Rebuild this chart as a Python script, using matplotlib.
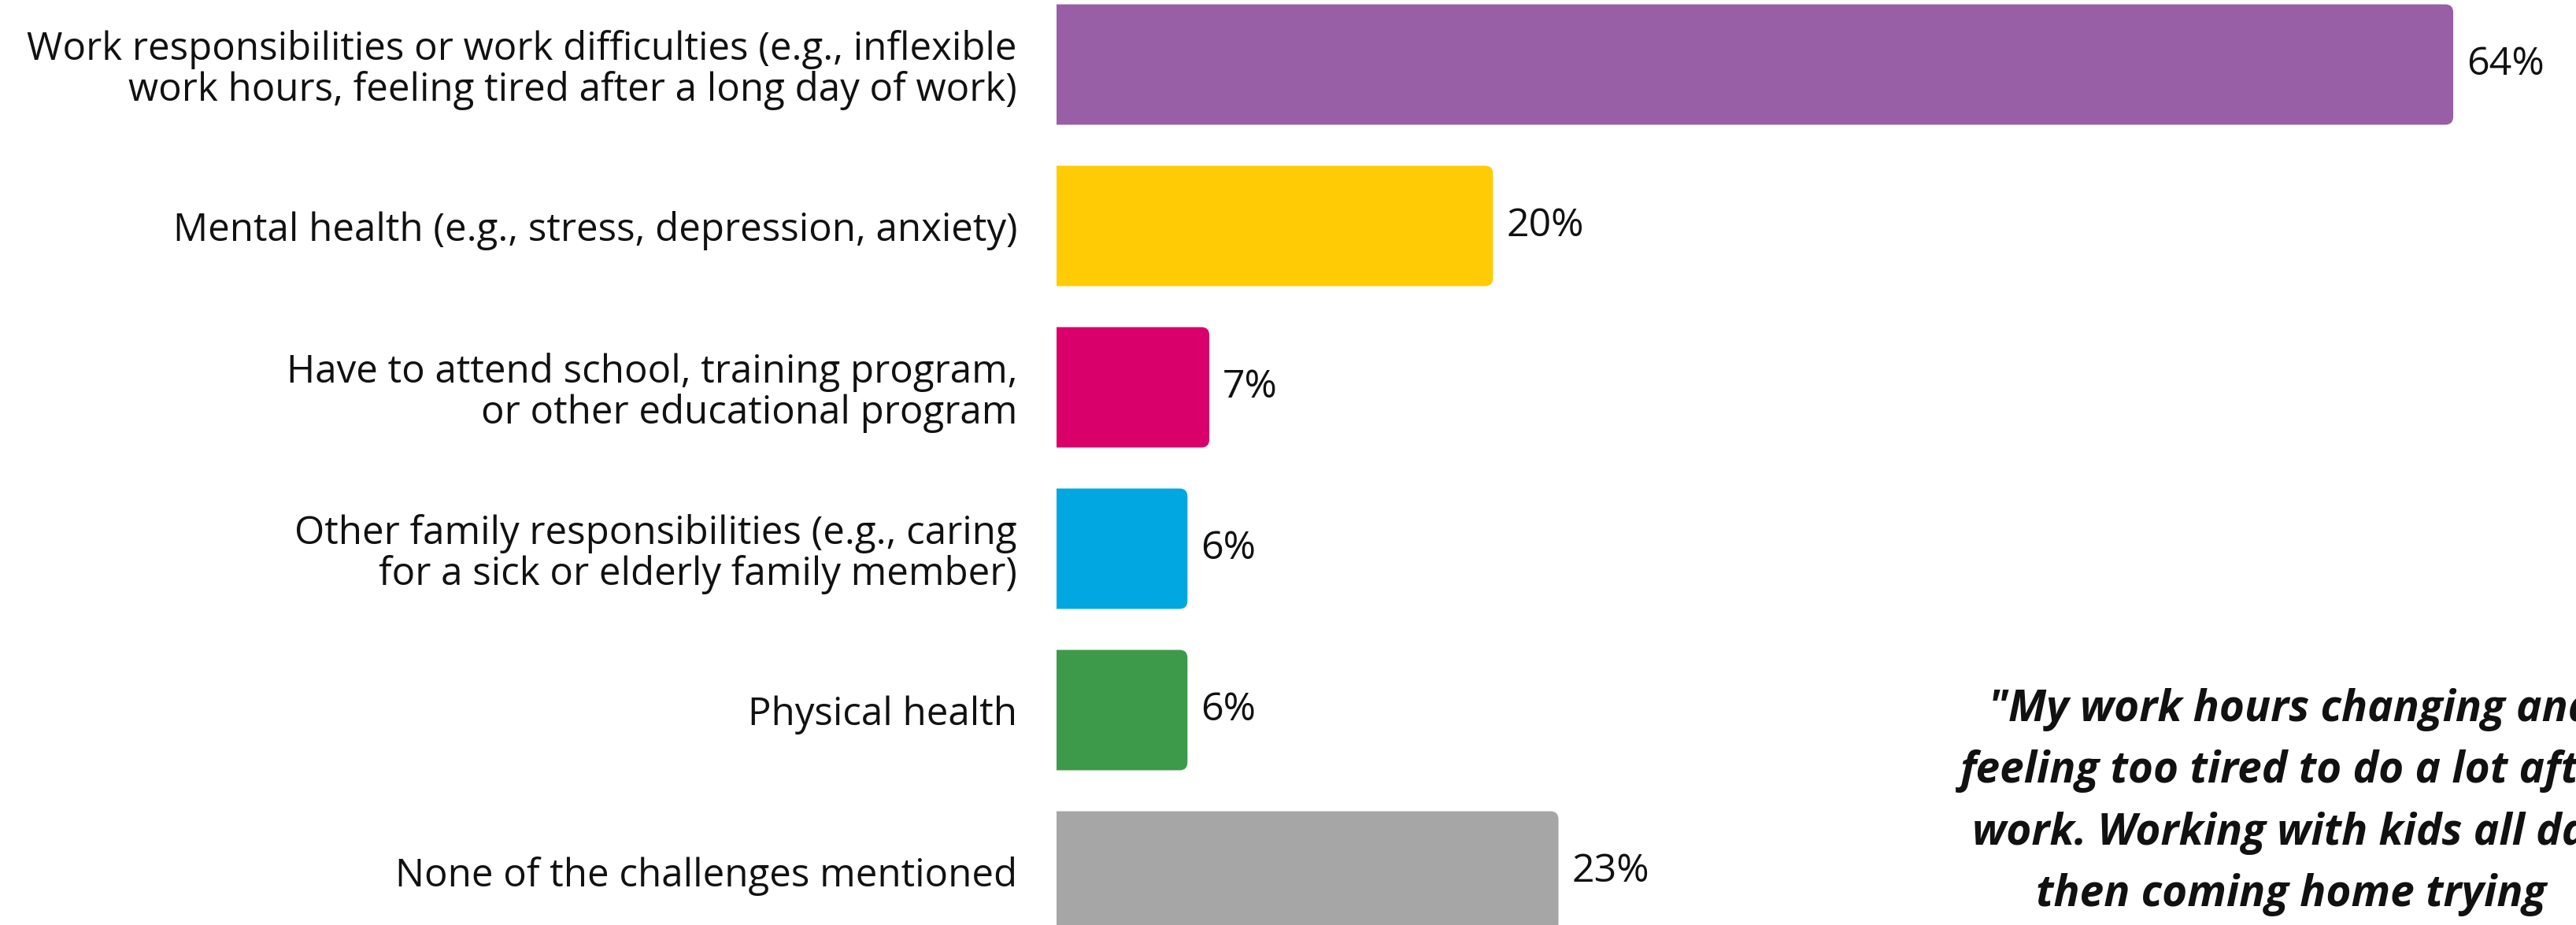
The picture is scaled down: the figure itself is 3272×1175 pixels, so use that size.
import numpy as np
import matplotlib
matplotlib.use("Agg")
import matplotlib.pyplot as plt
from matplotlib.patches import FancyBboxPatch

categories = [
    "Work responsibilities or work difficulties (e.g., inflexible\nwork hours, feeling tired after a long day of work)",
    "Mental health (e.g., stress, depression, anxiety)",
    "Have to attend school, training program,\nor other educational program",
    "Other family responsibilities (e.g., caring\nfor a sick or elderly family member)",
    "Physical health",
    "None of the challenges mentioned",
]
values = [64, 20, 7, 6, 6, 23]
colors = ["#985EA6", "#FFCB05", "#D9006C", "#00A7E1", "#3C9A4A", "#A6A6A6"]
quote_lines = [
    '"My work hours changing and',
    "feeling too tired to do a lot after",
    "work. Working with kids all day",
    "then coming home trying",
]

W, H = 3272, 1175
fig = plt.figure(figsize=(W / 100, H / 100), dpi=100)
ax = fig.add_axes([1342 / W, 0, 1 - 1342 / W, 1])

y = np.arange(len(values))
bars = ax.barh(y, values, height=0.746, color=colors)
ax.set_xlim(0, (W - 1342) / 27.72)
ax.set_ylim((H - 82) / 205, -82 / 205)

# rounded right ends (left end hidden past the axis edge)
rx, ry = 0.36, 0.05
for b in bars:
    b.set_visible(False)
    p = FancyBboxPatch((b.get_x() - 1, b.get_y()), b.get_width() + 1, b.get_height(),
                       boxstyle=f"round,pad=0,rounding_size={rx}",
                       mutation_aspect=ry / rx, fc=b.get_facecolor(), ec="none")
    ax.add_patch(p)

ax.bar_label(bars, labels=[f"{v}%" for v in values], padding=12,
             fontsize=36, family="Open Sans", color="#111111")

ax.set_yticks(y, categories, fontsize=35.5, family="Open Sans", color="#111111",
              linespacing=1.05)
ax.tick_params(axis="y", length=0, pad=36)
ax.set_xticks([])
for s in ax.spines.values():
    s.set_visible(False)

fig.text(2910 / W, 1 - 1019 / H, "\n".join(quote_lines), ha="center", va="center",
         fontsize=39.5, family="Open Sans", weight="bold", style="italic",
         linespacing=1.55, color="#111111")
plt.savefig("out.png", dpi=100)
